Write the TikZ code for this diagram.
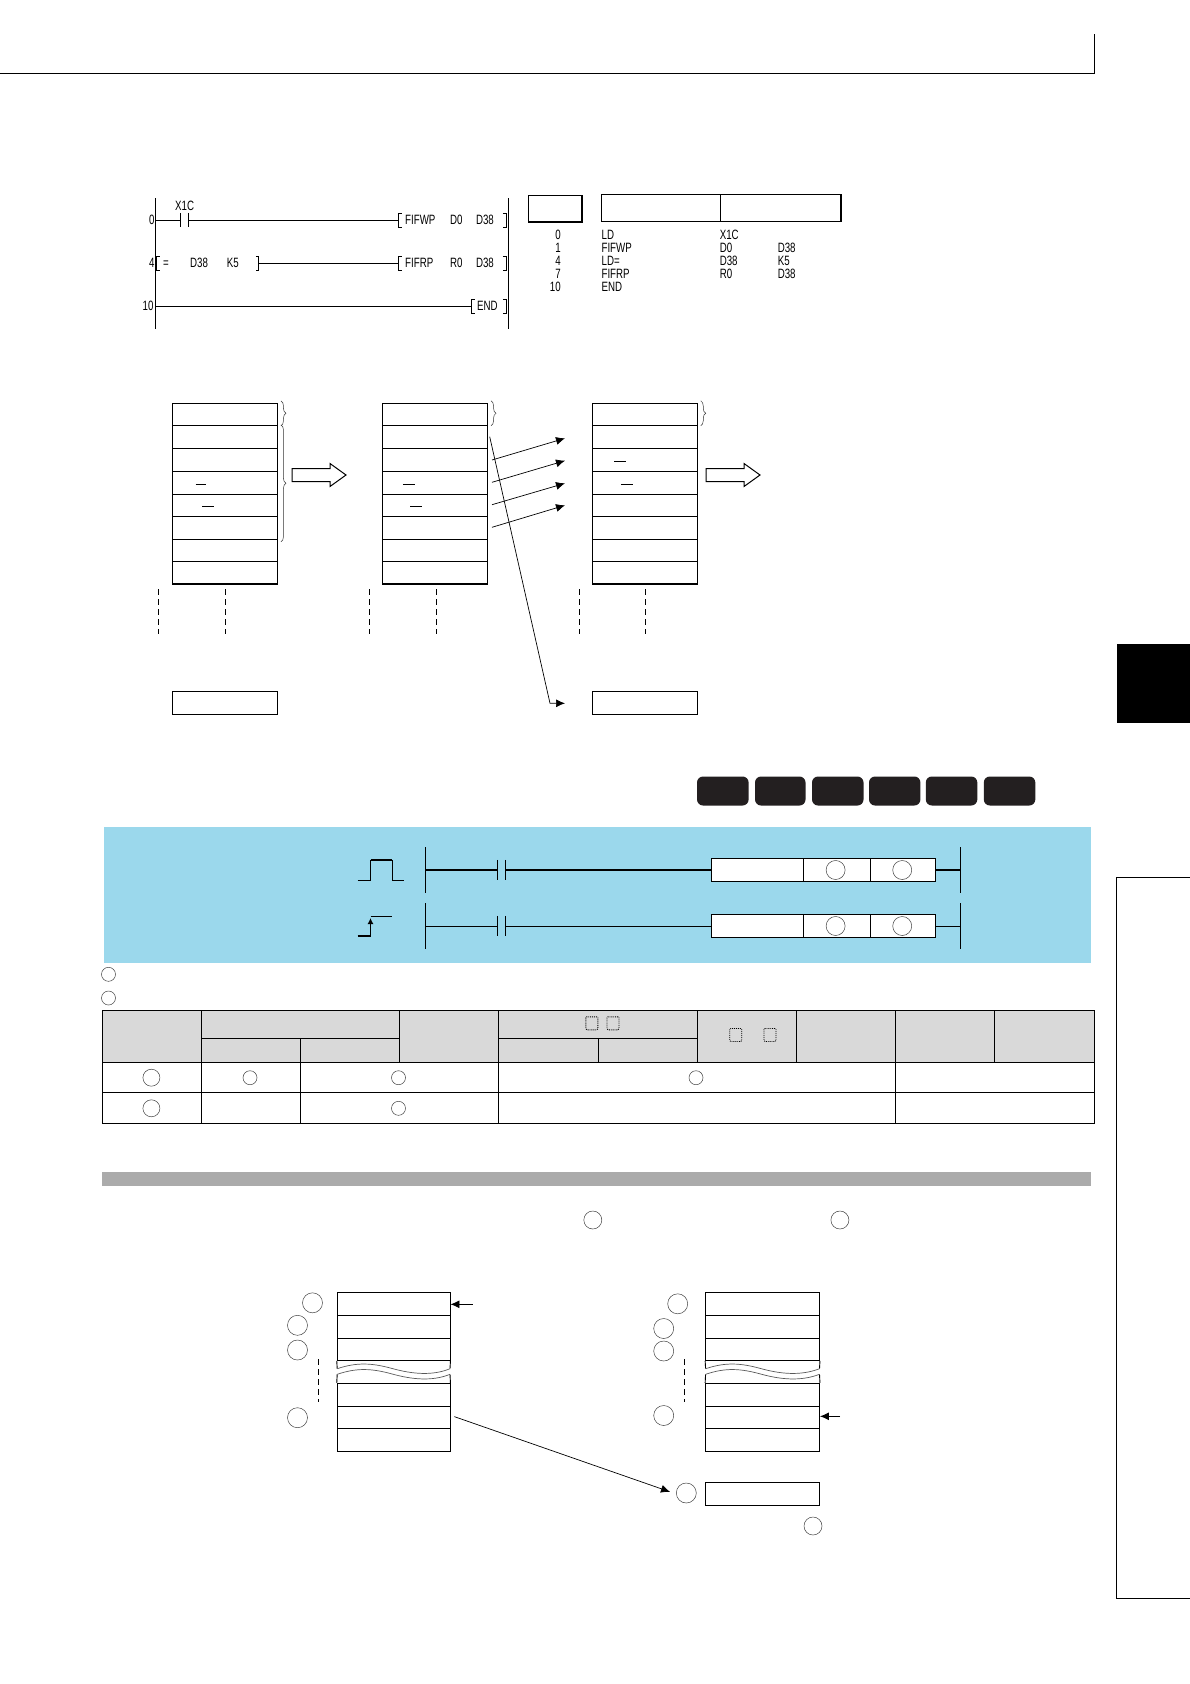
\documentclass[tikz,border=0pt]{standalone}
\usepackage{fontspec}
\usepackage{tikz}
\usetikzlibrary{positioning,fit,arrows.meta,decorations.pathreplacing}
\newfontfamily\ladfont[FakeStretch=0.72]{Liberation Sans}
\definecolor{bandblue}{HTML}{9BD8EC}
\definecolor{headgray}{HTML}{D9D9D9}
\definecolor{bargray}{HTML}{ABABAB}
\definecolor{btnblack}{HTML}{231F20}
\tikzset{
  memcell/.style={draw,line width=.9pt,fill=white},
  headcell/.style={draw,line width=.9pt,fill=headgray},
  bodycell/.style={draw,line width=.9pt},
  ring/.style={circle,draw=black!75,line width=.5pt,minimum size=#1},
  ring/.default=19pt,
  ladtext/.style={anchor=mid west,font={\ladfont\fontsize{13.5}{14}\selectfont}},
  dotbox/.style={draw,densely dotted,line width=.9pt,rounded corners=1pt,minimum width=12pt,minimum height=13pt},
  plcbtn/.style={fill=btnblack,rounded corners=6pt},
  blockarr/.style={draw,line width=1pt,fill=white},
  thinarr/.style={->,line width=.7pt},
  cutline/.style={dashed,dash pattern=on 6pt off 4pt,line width=.7pt},
  rbrace/.style={decorate,decoration={brace,amplitude=5pt},line width=.5pt,black!80},
}
% contact: height, name, x, y
\newcommand{\contact}[4][20pt]{\node[minimum width=8pt,minimum height=#1] (#2) at (#3,#4) {};
  \draw[line width=.8pt] (#2.north west) -- (#2.south west) (#2.north east) -- (#2.south east);}
% instruction brackets: name, x, y
\newcommand{\lbrk}[3]{\coordinate (#1) at (#2,#3);
  \draw[line width=.8pt] ([shift={(3,-7)}]#1) -- ([shift={(0,-7)}]#1) -- ([shift={(0,7)}]#1) -- ([shift={(3,7)}]#1);}
\newcommand{\rbrk}[3]{\coordinate (#1) at (#2,#3);
  \draw[line width=.8pt] ([shift={(-3,-7)}]#1) -- ([shift={(0,-7)}]#1) -- ([shift={(0,7)}]#1) -- ([shift={(-3,7)}]#1);}
\begin{document}
\begin{tikzpicture}[every node/.style={inner sep=0pt},>={Latex[length=9pt,width=8pt]},x=1pt,y=-1pt]
  \useasboundingbox (0,0) rectangle (1190,1684);
  % page frame
  \coordinate (h0) at (0,73);
  \coordinate (h1) at (1094.5,73);
  \coordinate (h2) at (1094.5,34);
  \draw[line width=.9pt] (h0) -- (h1) -- (h2);
  \node[fill=black,fit={(1117,644) (1190,723)}] (tab) {};
  \coordinate (s0) at (1190,877.5);
  \coordinate (s1) at (1116.3,877.5);
  \coordinate (s2) at (1116.3,1598);
  \coordinate (s3) at (1190,1598);
  \draw[line width=.9pt] (s0) -- (s1) -- (s2) -- (s3);

  % ladder
  \coordinate (t0) at (155.7,198.3);
  \coordinate (b0) at (155.7,329.3);
  \coordinate (t1) at (508,198.3);
  \coordinate (b1) at (508,329.3);
  \draw[line width=.7pt] (t0) -- (b0) (t1) -- (b1);
  \contact[14pt]{c1}{184.2}{220}
  \lbrk{w1}{398.5}{220}
  \rbrk{w2}{505.9}{220}
  \lbrk{r1}{398.5}{263.3}
  \rbrk{r2}{505.9}{263.3}
  \lbrk{e0}{156.8}{263.3}
  \rbrk{e1}{258.8}{263.3}
  \lbrk{n1}{471.5}{306.7}
  \rbrk{n2}{505.9}{306.7}
  \coordinate (l0) at (155.7,220);
  \coordinate (l1) at (155.7,306.7);
  \draw[line width=.9pt] (l0) -- (c1.west) (c1.east) -- (w1) (e1) -- (r1);
  \draw[line width=1.4pt] (l1) -- (n1);
  \foreach \nm/\xx/\yy/\txt in {x1/175/208/X1C,
      s01/149/222/0,s02/149/265.3/4,s03/142.5/308.7/10,
      i1/405/222/FIFWP,i2/450/222/D0,i3/475.8/222/D38,
      i4/163/265.3/=,i5/190/265.3/D38,i6/226.6/265.3/K5,
      i7/405/265.3/FIFRP,i8/450/265.3/R0,i9/475.8/265.3/D38,
      i10/476.9/308.7/END}
    \node[ladtext] (\nm) at (\xx,\yy) {\txt};

  % program list
  \node[draw,line width=1.4pt,fit={(528.4,195.3) (582,222)}] (k0) {};
  \node[draw,line width=1.1pt,fit={(601.4,194.7) (720.7,221.3)}] (k1) {};
  \node[draw,line width=1.1pt,fit={(720.7,194.7) (841,221.3)}] (k2) {};
  \foreach \nm/\yy/\st/\ins/\opa/\opb in {1/237/0/LD/X1C/{},2/250/1/FIFWP/D0/D38,3/263/4/LD=/D38/K5,4/276/7/FIFRP/R0/D38,5/289/10/END/{}/{}}{
    \node[ladtext,anchor=mid east] (p\nm) at (561,\yy) {\st};
    \node[ladtext] (q\nm) at (601.4,\yy) {\ins};
    \node[ladtext] (u\nm) at (719.6,\yy) {\opa};
    \node[ladtext] (v\nm) at (777.6,\yy) {\opb};
  }

  % fifo tables
  \foreach \tb/\xl/\xr in {a/172.5/277.5,b/382.5/487.6,c/592.5/697.3}{
    \foreach \nr/\ya/\yb in {1/403.3/425.3,2/425.3/448.3,3/448.3/471.3,4/471.3/494.3,5/494.3/516.3,6/516.3/539.3,7/539.3/561.3,8/561.3/583.7}
      \node[memcell,fit={(\xl,\ya) (\xr,\yb)}] (m\tb\nr) {};
    \draw[line width=1.4pt] (m\tb8.south west) -- (m\tb8.south east);
  }
  \node[memcell,fit={(172.5,691.7) (277.5,714.3)}] (ma9) {};
  \node[memcell,fit={(592.5,691.7) (697.3,714.3)}] (mc9) {};
  \draw[line width=1.4pt] (ma9.north west) -- (ma9.north east) (mc9.north west) -- (mc9.north east);
  \foreach \nm/\xa/\xb/\yy in {1/195.5/206/484.3,2/202/213.7/506.3,3/402.8/414.5/484.3,4/410.3/422/506.3,5/614.3/626/461.3,6/620.8/632.6/484.3}{
    \coordinate (d\nm) at (\xa,\yy);
    \coordinate (f\nm) at (\xb,\yy);
    \draw[line width=.8pt] (d\nm) -- (f\nm);
  }
  \foreach \nm/\xx in {1/157.9,2/225.5,3/369.5,4/436,5/579,6/645.5}{
    \coordinate (g\nm) at (\xx,589);
    \coordinate (j\nm) at (\xx,634);
    \draw[cutline] (g\nm) -- (j\nm);
  }
  \draw[rbrace] ([xshift=3pt,yshift=2pt]ma1.north east) -- ([xshift=3pt]ma1.south east);
  \draw[rbrace] ([xshift=3pt]ma2.north east) -- ([xshift=3pt,yshift=-2pt]ma6.south east);
  \draw[rbrace] ([xshift=3pt,yshift=2pt]mb1.north east) -- ([xshift=3pt]mb1.south east);
  \draw[rbrace] ([xshift=3pt,yshift=2pt]mc1.north east) -- ([xshift=3pt]mc1.south east);
  \foreach \ax in {292,706}
    \draw[blockarr,shift={(\ax,475)}] (0,-6.5) -- (38,-6.5) -- (38,-11.5) -- (54,0) -- (38,11.5) -- (38,6.5) -- (0,6.5) -- cycle;
  \foreach \nm/\ya/\yb in {1/460/438.3,2/482.3/460.7,3/504.7/483.3,4/527.3/505.3}{
    \coordinate (o\nm) at (492,\ya);
    \coordinate (z\nm) at (565,\yb);
    \path (o\nm) edge[thinarr] (z\nm);
  }
  \coordinate (o5) at (489.7,436.7);
  \coordinate (o6) at (550,703.3);
  \coordinate (z5) at (565,703.3);
  \draw[thinarr] (o5) -- (o6) -- (z5);

  % plc types
  \foreach \nm/\xa/\xb in {1/697/748.6,2/755/805.5,3/812/863.5,4/869/920.4,5/925.8/977.3,6/983.8/1035.3}
    \node[plcbtn,fit={(\xa,776.5) (\xb,805.5)}] (btn\nm) {};

  % instruction band
  \node[fill=bandblue,fit={(104,827) (1090.7,962.5)}] (band) {};
  \foreach \nr/\yy/\lw in {1/870/1.5pt,2/926/.8pt}{
    \coordinate (ra\nr) at (425.3,\yy-22.7);
    \coordinate (rb\nr) at (425.3,\yy+22.7);
    \coordinate (rc\nr) at (960,\yy-22.7);
    \coordinate (rd\nr) at (960,\yy+22.7);
    \coordinate (rl\nr) at (425.3,\yy);
    \coordinate (rr\nr) at (960,\yy);
    \draw[line width=.8pt] (ra\nr) -- (rb\nr) (rc\nr) -- (rd\nr);
    \contact{ct\nr}{501.6}{\yy}
    \node[memcell,fit={(711,\yy-11.6) (803.4,\yy+11.6)}] (in\nr) {};
    \node[memcell,line width=.7pt,fit={(803.4,\yy-11.6) (870,\yy+11.6)}] (sa\nr) {};
    \node[memcell,line width=.7pt,fit={(870,\yy-11.6) (935.5,\yy+11.6)}] (sb\nr) {};
    \node[ring] (ca\nr) at (835.6,\yy) {};
    \node[ring] (cb\nr) at (902.2,\yy) {};
    \draw[line width=\lw] (rl\nr) -- (ct\nr.west) (ct\nr.east) -- (in\nr.west) (sb\nr.east) -- (rr\nr);
  }
  % pulse and rising edge symbols
  \coordinate (pa) at (357.6,880);
  \coordinate (pb) at (370.5,880);
  \coordinate (pc) at (370.5,860);
  \coordinate (pd) at (392,860);
  \coordinate (pe) at (392,880);
  \coordinate (pf) at (403.8,880);
  \draw[line width=.8pt] (pa) -- (pb) -- (pc) (pd) -- (pe) -- (pf);
  \draw[line width=2.8pt] (pc) -- (pd);
  \coordinate (ea) at (357.6,936);
  \coordinate (eb) at (370.5,936);
  \coordinate (ec) at (370.5,918);
  \coordinate (ef) at (370.5,916);
  \coordinate (ed) at (392,916);
  \draw[line width=.8pt] (ef) -- (ed);
  \draw[line width=1.8pt] (ea) -- (eb);
  \draw[->,>={Latex[length=6pt,width=6pt]},line width=1.8pt] (eb) -- (ec);

  % setting data
  \node[ring=14pt] (sd1) at (108.5,974.3) {};
  \node[ring=14pt] (sd2) at (108.5,998) {};
  \foreach \nm/\xa/\ya/\xb/\yb in {1/102/1010.7/201.9/1062.3,2/201.9/1010.7/399.5/1038.7,3/201.9/1038.7/300.7/1062.3,4/300.7/1038.7/399.5/1062.3,
      5/399.5/1010.7/498.3/1062.3,6/498.3/1010.7/697/1038.7,7/498.3/1038.7/598.2/1062.3,8/598.2/1038.7/697/1062.3,
      9/697/1010.7/796.9/1062.3,10/796.9/1010.7/895.7/1062.3,11/895.7/1010.7/994.5/1062.3,12/994.5/1010.7/1094.5/1062.3}
    \node[headcell,fit={(\xa,\ya) (\xb,\yb)}] (hd\nm) {};
  \foreach \nm/\xa/\ya/\xb/\yb in {1/102/1062.3/201.9/1092.3,2/201.9/1062.3/300.7/1092.3,3/300.7/1062.3/498.3/1092.3,4/498.3/1062.3/895.7/1092.3,5/895.7/1062.3/1094.5/1092.3,
      6/102/1092.3/201.9/1123.3,7/201.9/1092.3/300.7/1123.3,8/300.7/1092.3/498.3/1123.3,9/498.3/1092.3/895.7/1123.3,10/895.7/1092.3/1094.5/1123.3}
    \node[bodycell,fit={(\xa,\ya) (\xb,\yb)}] (bd\nm) {};
  \node[dotbox] (db1) at (591.8,1023.3) {};
  \node[dotbox] (db2) at (613,1023.3) {};
  \node[dotbox] (db3) at (735.7,1035) {};
  \node[dotbox] (db4) at (770,1035) {};
  \node[ring=17pt] (tc1) at (151.4,1077.7) {};
  \node[ring=14pt] (tc2) at (250,1077.7) {};
  \node[ring=14pt] (tc3) at (398.5,1077.7) {};
  \node[ring=14pt] (tc4) at (696,1077.7) {};
  \node[ring=17pt] (tc5) at (151.4,1108.3) {};
  \node[ring=14pt] (tc6) at (398.5,1108.3) {};

  % function
  \node[fill=bargray,fit={(102,1172) (1091,1186)}] (bar) {};
  \node[ring=18pt] (fn1) at (592.8,1220) {};
  \node[ring=18pt] (fn2) at (839.9,1220) {};
  \foreach \tb/\xl/\xr in {l/337.2/450,r/705.6/819.5}{
    \foreach \nr/\ya/\yb in {1/1292.3/1315.3,2/1315.3/1338.3,3/1338.3/1360.3,4/1383.3/1406.3,5/1406.3/1428.3,6/1428.3/1451.3}
      \node[memcell,fit={(\xl,\ya) (\xr,\yb)}] (\tb\nr) {};
    \draw[line width=.9pt] (\tb3.south west) -- (\xl,1368.7);
    \draw[line width=.9pt] (\tb3.south east) -- (\xr,1368.7);
    \draw[line width=.9pt] (\tb4.north west) -- (\xl,1374.3);
    \draw[line width=.9pt] (\tb4.north east) -- (\xr,1374.3);
    \draw[black!65,line width=.7pt] (\xl,1368.7) .. controls (\xl+20,1362) and (\xl+35,1363) .. (\xl+55,1368.5) .. controls (\xl+75,1374) and (\xl+95,1376) .. (\xr,1368.7);
    \draw[black!65,line width=.7pt] (\xl,1374.3) .. controls (\xl+20,1367.5) and (\xl+35,1368.5) .. (\xl+55,1374) .. controls (\xl+75,1379.5) and (\xl+95,1381.5) .. (\xr,1374.3);
  }
  \foreach \nm/\xx/\yy in {1/312.5/1302.8,2/297.5/1325.3,3/297.5/1350,4/297.5/1417.7,5/677.7/1303.8,6/663.7/1328.5,7/663.7/1351,8/663.7/1415.5}
    \node[ring=20pt] (ci\nm) at (\xx,\yy) {};
  \foreach \nm/\xx in {1/318,2/684}{
    \coordinate (vt\nm) at (\xx,1359);
    \coordinate (vb\nm) at (\xx,1402.3);
    \draw[cutline] (vt\nm) -- (vb\nm);
  }
  \node[memcell,fit={(705.6,1482.3) (819.5,1505.3)}] (rb) {};
  \node[ring=20pt] (ci9) at (686.3,1493) {};
  \node[ring=18pt] (ci10) at (813,1526) {};
  \coordinate (al) at (472.6,1304.3);
  \coordinate (ar) at (840,1416.3);
  \coordinate (ad) at (454.3,1416.6);
  \coordinate (ae) at (670,1491.8);
  \path (al) edge[thinarr,line width=.9pt] (l1.east |- al)
        (ar) edge[thinarr,line width=.9pt] (r5.east |- ar)
        (ad) edge[thinarr] (ae);
\end{tikzpicture}
\end{document}
